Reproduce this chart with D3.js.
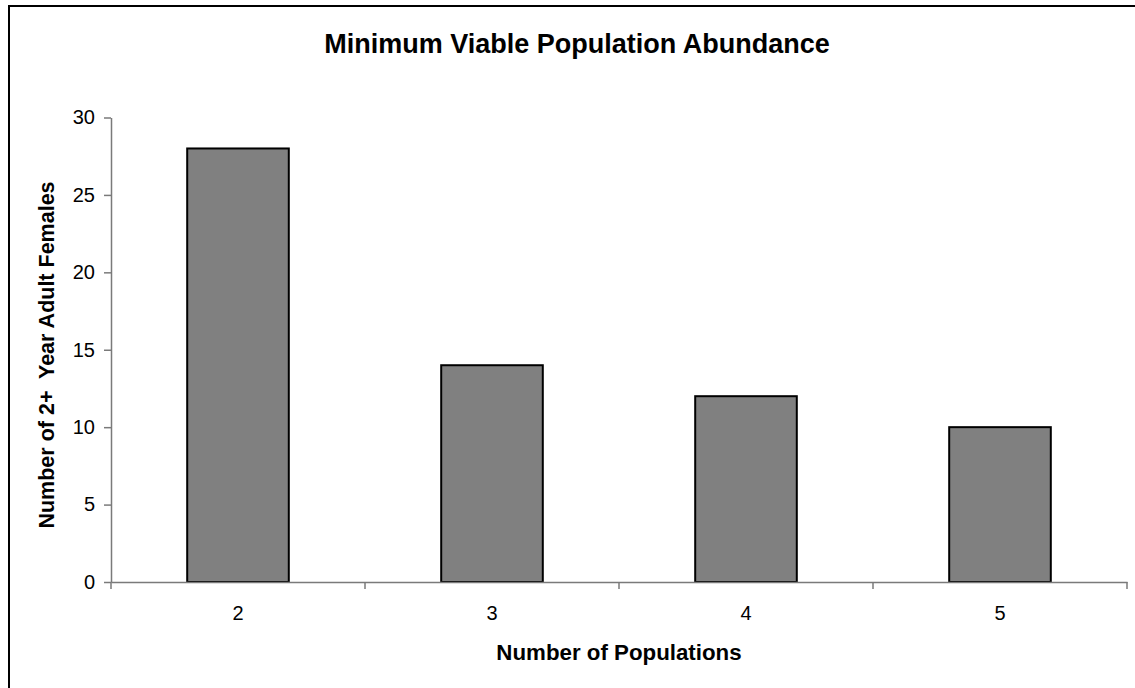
<!DOCTYPE html>
<html>
<head>
<meta charset="utf-8">
<script src="https://cdn.jsdelivr.net/npm/d3@7"></script>
<style>
  body { margin: 0; background: #fff; }
  svg { display: block; font-family: "Liberation Sans", Arial, sans-serif; }
</style>
</head>
<body>
<div id="chart"></div>
<script>
// data
const populations = ["2", "3", "4", "5"];
const females = [28, 14, 12, 10];
const yTicks = [0, 5, 10, 15, 20, 25, 30];

const width = 1135, height = 688;
const padding = {top: 117.5, left: 111, right: 8, bottom: 106};

const svg = d3.select("#chart").append("svg")
    .attr("width", width)
    .attr("height", height);

// outer frame (runs off the right and bottom edge as in the picture)
svg.append("rect")
    .attr("x", 9).attr("y", 6)
    .attr("width", width + 10).attr("height", height + 10)
    .attr("fill", "none")
    .attr("stroke", "#000")
    .attr("stroke-width", 2);

const x = d3.scaleBand()
    .domain(populations)
    .range([padding.left, width - padding.right])
    .paddingInner(0.6)
    .paddingOuter(0.3);

const y = d3.scaleLinear()
    .domain([0, 30])
    .range([height - padding.bottom, padding.top]);

const axisColour = "#7a7a7a";
const tickFont = 20;

// bars
svg.append("g")
    .attr("class", "bars")
    .selectAll("rect")
    .data(populations.map((p, i) => ({name: p, value: females[i]})))
    .join("rect")
    .attr("x", d => x(d.name))
    .attr("y", d => y(d.value))
    .attr("width", x.bandwidth())
    .attr("height", d => y(0) - y(d.value))
    .attr("fill", "#808080")
    .attr("stroke", "#000")
    .attr("stroke-width", 2);

// y axis
const yAxis = svg.append("g")
    .attr("class", "y-axis")
    .attr("transform", `translate(${padding.left}, 0)`)
    .call(d3.axisLeft(y).tickValues(yTicks).tickSize(7).tickSizeOuter(0).tickPadding(9));
yAxis.attr("font-size", tickFont).attr("font-family", null);
yAxis.select(".domain").attr("stroke", axisColour).attr("stroke-width", 1.5);
yAxis.selectAll(".tick line").attr("stroke", axisColour).attr("stroke-width", 1.5);
yAxis.selectAll(".tick text").attr("fill", "#000");

// x axis: labels in the middle of each category, ticks on the boundaries
const xAxis = svg.append("g")
    .attr("class", "x-axis")
    .attr("transform", `translate(0, ${y(0)})`)
    .call(d3.axisBottom(x).tickSize(0).tickSizeOuter(0).tickPadding(24));
xAxis.attr("font-size", tickFont).attr("font-family", null);
xAxis.select(".domain").attr("stroke", axisColour).attr("stroke-width", 1.5);
xAxis.selectAll(".tick text").attr("fill", "#000");

const boundaries = populations.map(p => x(p) - x.step() * x.paddingOuter())
    .concat([x.range()[1]]);
xAxis.selectAll(".boundary")
    .data(boundaries)
    .join("line")
    .attr("class", "boundary")
    .attr("x1", d => d).attr("x2", d => d)
    .attr("y1", 0).attr("y2", 7)
    .attr("stroke", axisColour)
    .attr("stroke-width", 1.5);

// titles
svg.append("text")
    .attr("x", 577).attr("y", 53)
    .attr("text-anchor", "middle")
    .attr("font-size", 27)
    .attr("font-weight", "bold")
    .text("Minimum Viable Population Abundance");

svg.append("text")
    .attr("x", (x.range()[0] + x.range()[1]) / 2).attr("y", 660)
    .attr("text-anchor", "middle")
    .attr("font-size", 22.3)
    .attr("font-weight", "bold")
    .text("Number of Populations");

svg.append("text")
    .attr("transform", `translate(54, 355) rotate(-90)`)
    .attr("text-anchor", "middle")
    .attr("font-size", 21.5)
    .attr("font-weight", "bold")
    .style("white-space", "pre")
    .text("Number of 2+  Year Adult Females");
</script>
</body>
</html>
